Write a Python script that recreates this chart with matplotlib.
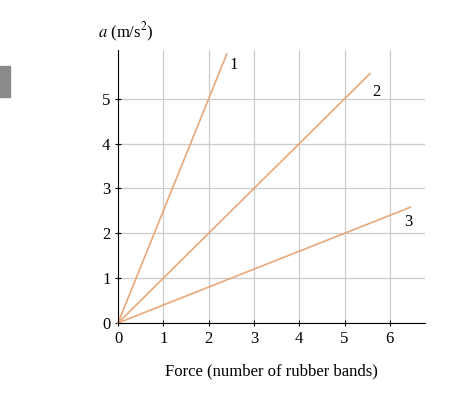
import matplotlib
matplotlib.use("Agg")
import matplotlib.pyplot as plt
from matplotlib.patches import Rectangle

labels = ["1", "2", "3"]
slopes = [2.5, 1.0, 0.4]
x_ends = [2.4, 5.56, 6.45]
xticks = [0, 1, 2, 3, 4, 5, 6]
yticks = [0, 1, 2, 3, 4, 5]

plt.rcParams['font.family'] = ['Liberation Serif', 'DejaVu Serif']
plt.rcParams['mathtext.fontset'] = 'stix'
fig = plt.figure(figsize=(4.74, 4.13), dpi=100)
ax = fig.add_axes([0.249, 0.218, 0.648, 0.661])
ax.set_xlim(0, 6.78)
ax.set_ylim(0, 6.09)
ax.set_xticks(xticks)
ax.set_yticks(yticks)
ax.grid(True, color='#cccccc', lw=0.9)
ax.set_axisbelow(True)
for s in ['top', 'right']:
    ax.spines[s].set_visible(False)
ax.tick_params(labelsize=12, length=4, direction='inout')
color = '#e8a878'
lpos = [(2.55, 5.75), (5.7, 5.15), (6.4, 2.25)]
for lab, m, xe, (tx, ty) in zip(labels, slopes, x_ends, lpos):
    ax.plot([0, xe], [0, m * xe], color=color, lw=1.2, clip_on=False)
    ax.text(tx, ty, lab, fontsize=12, ha='center', va='center')
ax.set_xlabel("Force (number of rubber bands)", fontsize=12, labelpad=12)
fig.text(0.265, 0.893, "$a$ (m/s$^2$)", fontsize=12, ha='center', va='bottom')
fig.patches.append(Rectangle((0, 0.765), 0.021, 0.075, transform=fig.transFigure,
                             color='#8a8a8a', figure=fig))
fig.savefig("out.png", dpi=100)
